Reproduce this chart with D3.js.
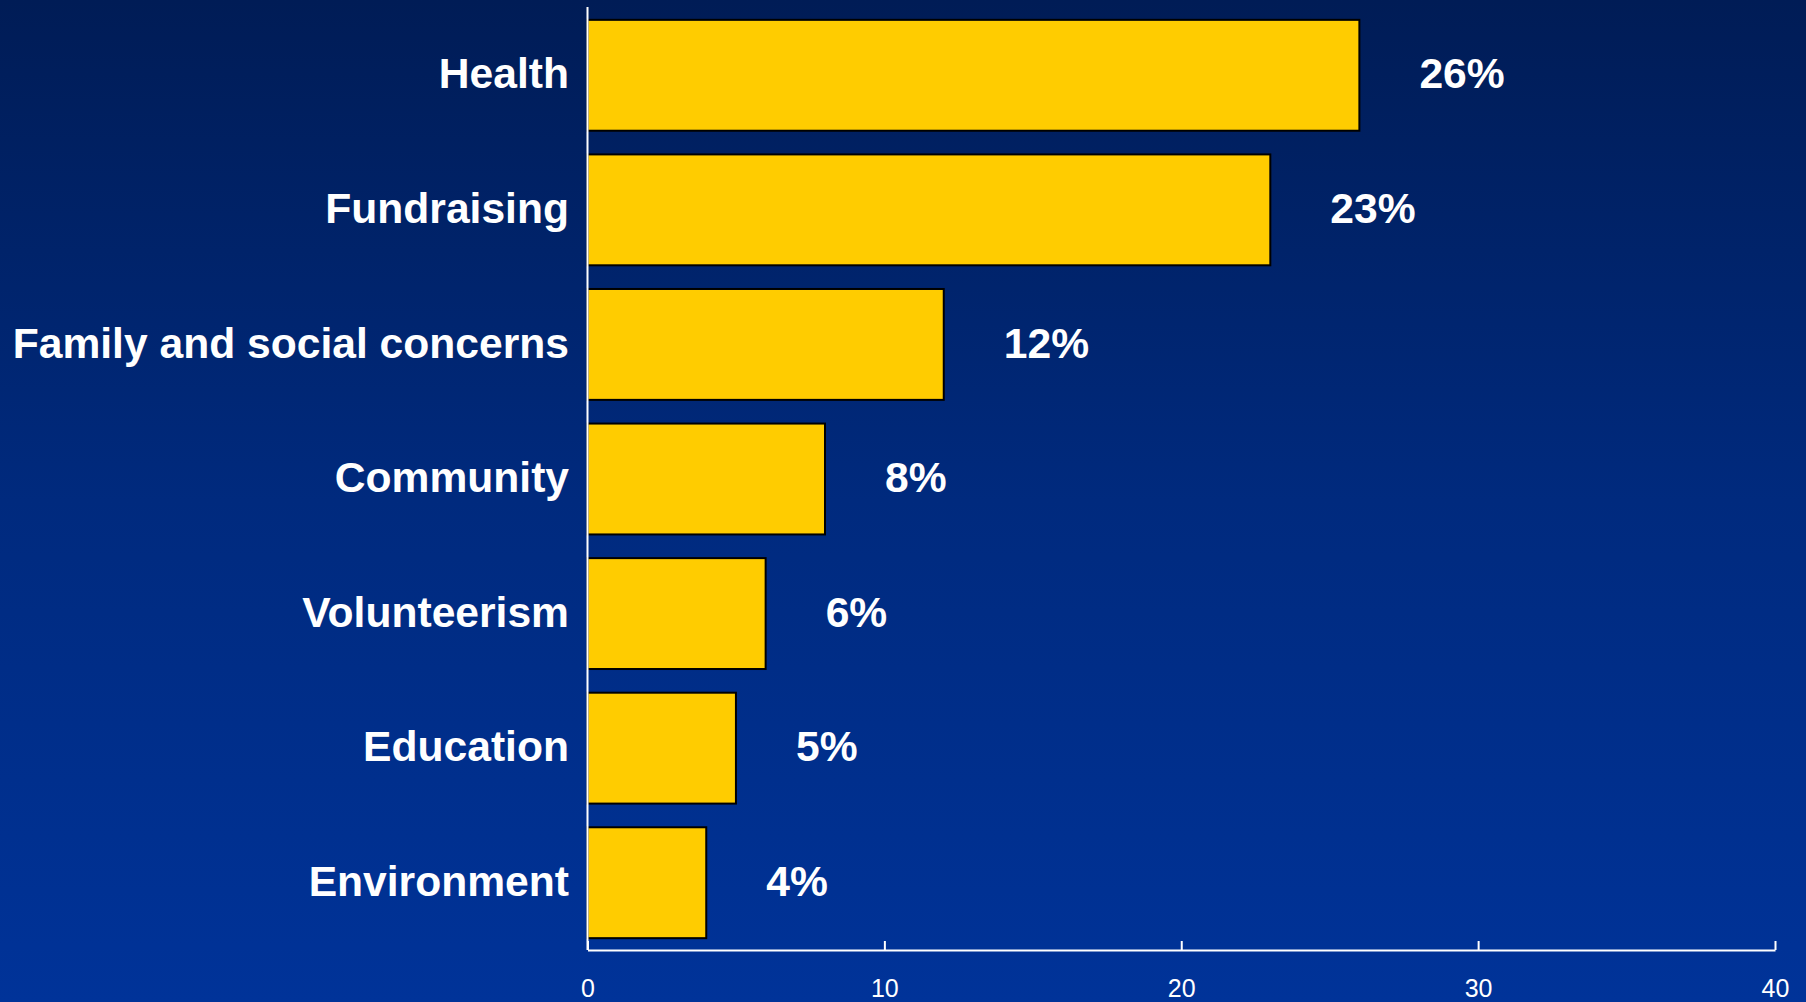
<!DOCTYPE html>
<html>
<head>
<meta charset="utf-8">
<script src="https://cdn.jsdelivr.net/npm/d3@7"></script>
<style>
  html, body { margin: 0; padding: 0; background: #002a80; }
  svg { display: block; }
</style>
</head>
<body>
<svg id="chart" width="1806" height="1002"></svg>
<script>
// Share of activity by area (%)
const categories = ["Health", "Fundraising", "Family and social concerns", "Community", "Volunteerism", "Education", "Environment"];
const values = [26, 23, 12, 8, 6, 5, 4];
const valueLabels = ["26%", "23%", "12%", "8%", "6%", "5%", "4%"];
const tickValues = [0, 10, 20, 30, 40];

const W = 1806, H = 1002;
const svg = d3.select("#chart");

// Background: vertical navy gradient
const defs = svg.append("defs");
const grad = defs.append("linearGradient")
  .attr("id", "bg").attr("x1", 0).attr("y1", 0).attr("x2", 0).attr("y2", 1);
grad.append("stop").attr("offset", "0%").attr("stop-color", "#001c56");
grad.append("stop").attr("offset", "50%").attr("stop-color", "#002a7e");
grad.append("stop").attr("offset", "100%").attr("stop-color", "#003399");
svg.append("rect").attr("width", W).attr("height", H).attr("fill", "url(#bg)");

const x = d3.scaleLinear().domain([0, 40]).range([587.5, 1775]);
const y = d3.scaleBand().domain(categories).range([8, 950])
  .paddingInner(0.176).paddingOuter(0.088);

const font = "'Liberation Sans', Arial, Helvetica, sans-serif";
const labelSize = 42.6;

// Bars
svg.append("g").selectAll("rect")
  .data(categories)
  .join("rect")
  .attr("x", x(0))
  .attr("y", d => y(d))
  .attr("width", (d, i) => x(values[i]) - x(0))
  .attr("height", y.bandwidth())
  .attr("fill", "#ffcc00")
  .attr("stroke", "#000")
  .attr("stroke-width", 2);

// Value labels
svg.append("g").selectAll("text")
  .data(categories)
  .join("text")
  .attr("x", (d, i) => x(values[i]) + 60)
  .attr("y", d => y(d) + y.bandwidth() / 2)
  .attr("dy", "0.31em")
  .attr("fill", "#fff")
  .attr("font-family", font)
  .attr("font-weight", "bold")
  .attr("font-size", labelSize)
  .text((d, i) => valueLabels[i]);

// Category labels
svg.append("g").selectAll("text")
  .data(categories)
  .join("text")
  .attr("x", 569)
  .attr("y", d => y(d) + y.bandwidth() / 2)
  .attr("dy", "0.31em")
  .attr("text-anchor", "end")
  .attr("fill", "#fff")
  .attr("font-family", font)
  .attr("font-weight", "bold")
  .attr("font-size", labelSize)
  .text(d => d);

// Y axis line
svg.append("line")
  .attr("x1", x(0)).attr("x2", x(0))
  .attr("y1", 7).attr("y2", 950)
  .attr("stroke", "#fff").attr("stroke-width", 2);

// X axis with inward ticks
const xAxis = d3.axisBottom(x).tickValues(tickValues).tickSize(-9).tickSizeOuter(0).tickPadding(0);
const gx = svg.append("g").attr("transform", "translate(0,950)").call(xAxis);
gx.select(".domain").attr("stroke", "#fff").attr("stroke-width", 2);
gx.selectAll(".tick line").attr("stroke", "#fff").attr("stroke-width", 2);
gx.selectAll(".tick text")
  .attr("y", 47)
  .attr("dy", 0)
  .attr("fill", "#fff")
  .attr("font-family", font)
  .attr("font-size", 25);
</script>
</body>
</html>
